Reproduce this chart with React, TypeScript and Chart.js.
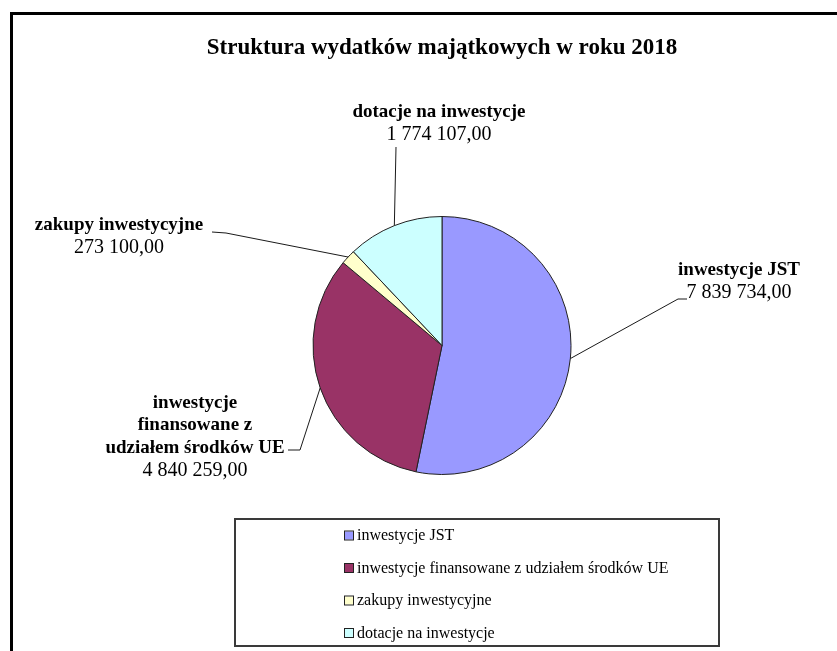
import { useEffect, useRef } from "react";
import { Chart, registerables } from "chart.js";

Chart.register(...registerables);

const TITLE = "Struktura wydatków majątkowych w roku 2018";
const categories = [
  "inwestycje JST",
  "inwestycje finansowane z udziałem środków UE",
  "zakupy inwestycyjne",
  "dotacje na inwestycje",
];
const labelLines = [
  ["inwestycje JST"],
  ["inwestycje", "finansowane z", "udziałem środków UE"],
  ["zakupy inwestycyjne"],
  ["dotacje na inwestycje"],
];
const values = [7839734.0, 4840259.0, 273100.0, 1774107.0];
const colors = ["#9999FF", "#993366", "#FFFFCC", "#CCFFFF"];

// label placement (annotation layout, not data)
const LABEL_LAYOUT = [
  { cx: 739, y0: 270, elbow: [678, 299], tail: [687, 299] },
  { cx: 195, y0: 403, elbow: [300, 450], tail: [288, 450] },
  { cx: 119, y0: 225, elbow: [226, 233], tail: [212, 232] },
  { cx: 439, y0: 112, elbow: [396, 147], tail: null as null | number[] },
];

const SERIF = '"Liberation Serif", "Times New Roman", serif';

function fmt(v: number): string {
  const [i, d] = v.toFixed(2).split(".");
  const parts: string[] = [];
  for (let k = i.length; k > 0; k -= 3) parts.unshift(i.slice(Math.max(0, k - 3), k));
  return parts.join(" ") + "," + d;
}

const framePlugin = {
  id: "frame",
  beforeDraw(chart: any) {
    const ctx = chart.ctx;
    ctx.save();
    ctx.fillStyle = "#ffffff";
    ctx.fillRect(0, 0, chart.width, chart.height);
    ctx.strokeStyle = "#000000";
    ctx.lineWidth = 3;
    ctx.strokeRect(11.5, 13.5, 1000, 1000);
    ctx.restore();
  },
};

const labelPlugin = {
  id: "pieLabels",
  afterDraw(chart: any) {
    const ctx = chart.ctx;
    const meta = chart.getDatasetMeta(0);
    ctx.save();
    meta.data.forEach((arc: any, i: number) => {
      const { x, y, startAngle, endAngle, outerRadius } = arc.getProps(
        ["x", "y", "startAngle", "endAngle", "outerRadius"],
        true
      );
      const mid = (startAngle + endAngle) / 2;
      const sx = x + Math.cos(mid) * outerRadius;
      const sy = y + Math.sin(mid) * outerRadius;
      const L = LABEL_LAYOUT[i];
      ctx.strokeStyle = "#1a1a1a";
      ctx.lineWidth = 1;
      ctx.beginPath();
      ctx.moveTo(sx, sy);
      ctx.lineTo(L.elbow[0], L.elbow[1]);
      if (L.tail) ctx.lineTo(L.tail[0], L.tail[1]);
      ctx.stroke();

      ctx.fillStyle = "#000000";
      ctx.textAlign = "center";
      ctx.textBaseline = "middle";
      const lines = labelLines[i];
      ctx.font = `bold 19px ${SERIF}`;
      lines.forEach((ln, k) => ctx.fillText(ln, L.cx, L.y0 + k * 22.5));
      ctx.font = `20px ${SERIF}`;
      ctx.fillText(fmt(values[i]), L.cx, L.y0 + lines.length * 22.5);
    });

    // legend
    ctx.strokeStyle = "#3a3a3a";
    ctx.lineWidth = 2;
    ctx.strokeRect(235, 519, 484, 127);
    ctx.font = `16px ${SERIF}`;
    ctx.textAlign = "left";
    ctx.textBaseline = "middle";
    categories.forEach((c, i) => {
      const cy = 535.5 + i * 32.5;
      ctx.fillStyle = colors[i];
      ctx.fillRect(345, cy - 4, 8, 8);
      ctx.strokeStyle = "#222222";
      ctx.lineWidth = 1;
      ctx.strokeRect(344.5, cy - 4.5, 9, 9);
      ctx.fillStyle = "#000000";
      ctx.fillText(c, 357, cy + 0.5);
    });
    ctx.restore();
  },
};

export default function App() {
  const ref = useRef<HTMLCanvasElement | null>(null);
  useEffect(() => {
    document.body.style.margin = "0";
    const chart = new Chart(ref.current as HTMLCanvasElement, {
      type: "pie",
      data: {
        labels: categories,
        datasets: [
          {
            data: values,
            backgroundColor: colors,
            borderColor: "#222222",
            borderWidth: 1,
          },
        ],
      },
      options: {
        animation: false,
        responsive: false,
        devicePixelRatio: 1,
        layout: { padding: { top: 0, left: 200, right: 153, bottom: 176 } },
        plugins: {
          legend: { display: false },
          tooltip: { enabled: false },
          title: {
            display: true,
            text: TITLE,
            color: "#000000",
            font: { family: SERIF, size: 23, weight: "bold" },
            padding: { top: 34, bottom: 154.4 },
          },
        },
      },
      plugins: [framePlugin, labelPlugin],
    });
    return () => chart.destroy();
  }, []);
  return (
    <div style={{ position: "fixed", left: 0, top: 0, width: 837, height: 651 }}>
      <canvas ref={ref} width={837} height={651} style={{ width: 837, height: 651 }} />
    </div>
  );
}
